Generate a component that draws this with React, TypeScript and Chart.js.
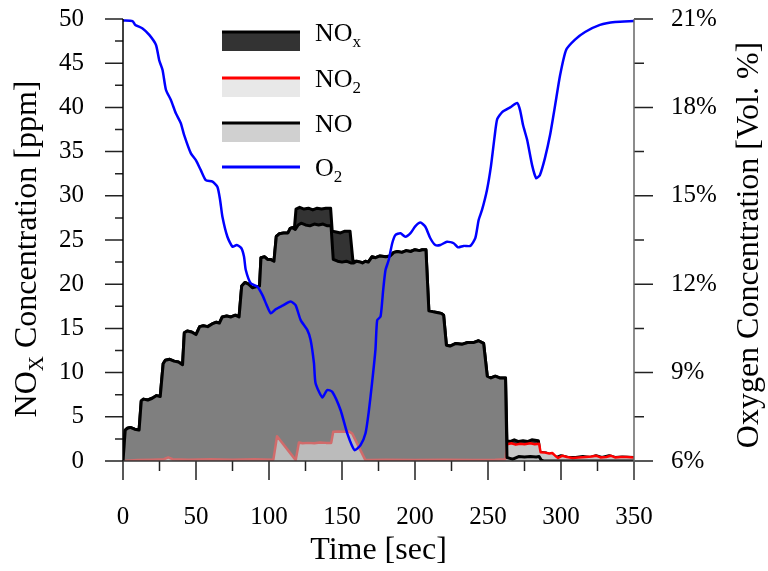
import React, { useEffect, useRef } from 'react';
import { Chart, registerables } from 'chart.js';

Chart.register(...registerables);

// ---- data (time in sec, concentrations in ppm, O2 in vol. %) ----
const NO_T = [0, 1.5, 3, 5, 8, 11, 12.5, 14, 17, 20, 23, 25.5, 27.5, 29, 32, 35, 38, 40.8, 42, 44, 47, 50, 52.5, 55, 58, 61, 64, 66, 68, 71, 74, 77, 79.5, 81.3, 83.5, 86, 88.6, 91, 93.5, 94.5, 97, 99, 101, 103.4, 105, 107, 110, 113, 114.5, 116, 118, 120, 122, 125, 128, 131, 134, 137, 140, 142.5, 144, 147, 150, 153, 156, 158, 160, 162.7, 164, 166, 168, 170.5, 173, 176, 180, 183, 185.5, 188, 191, 194, 197, 200, 203, 205, 207.5, 209.5, 212, 215, 218, 219.6, 221.5, 224, 228, 232, 236, 240, 243.5, 247, 249.5, 252, 255, 258, 262, 263, 265, 267, 269, 271, 275, 279, 283, 285, 286.5, 288, 350];
const NO_V = [0, 3.5, 3.7, 3.8, 3.6, 3.5, 6.8, 7.0, 6.9, 7.1, 7.4, 7.3, 11.0, 11.4, 11.5, 11.3, 11.2, 10.9, 14.5, 14.7, 14.6, 14.3, 15.2, 15.3, 15.2, 15.5, 15.7, 15.6, 16.3, 16.4, 16.3, 16.5, 16.3, 19.8, 20.2, 20.0, 19.6, 19.7, 19.8, 23.0, 23.1, 22.8, 22.8, 22.6, 25.4, 25.7, 25.8, 25.8, 26.3, 26.4, 26.2, 26.7, 26.9, 26.7, 26.6, 26.8, 26.7, 26.8, 26.6, 26.6, 22.8, 22.6, 22.5, 22.6, 22.4, 22.4, 22.6, 22.5, 22.4, 22.6, 22.5, 23.1, 23.0, 23.2, 23.1, 23.2, 23.6, 23.7, 23.6, 23.8, 23.7, 23.9, 23.8, 23.9, 23.9, 17.0, 16.9, 16.8, 16.7, 16.5, 13.1, 13.0, 13.3, 13.2, 13.4, 13.4, 13.6, 13.3, 9.6, 9.4, 9.6, 9.4, 9.4, 0.4, 0.3, 0.2, 0.35, 0.5, 0.45, 0.5, 0.45, 0.5, 0.1, 0, 0];

const NOX_T = [0, 1.5, 3, 5, 8, 11, 12.5, 14, 17, 20, 23, 25.5, 27.5, 29, 32, 35, 38, 40.8, 42, 44, 47, 50, 52.5, 55, 58, 61, 64, 66, 68, 71, 74, 77, 79.5, 81.3, 83.5, 86, 88.6, 91, 93.5, 94.5, 97, 99, 101, 103.4, 105, 107, 110, 113, 114.5, 116, 117.5, 118.5, 121, 124, 127, 130, 133, 136, 139, 142.2, 143.3, 146, 149, 152, 155.5, 157.5, 160, 162.7, 164, 166, 168, 170.5, 173, 176, 180, 183, 185.5, 188, 191, 194, 197, 200, 203, 205, 207.5, 209.5, 212, 215, 218, 219.6, 221.5, 224, 228, 232, 236, 240, 243.5, 247, 249.5, 252, 255, 258, 262, 263, 265, 268, 271, 274, 277, 280, 284.5, 285.5, 290, 293, 297, 300, 305, 310, 315, 320, 324, 328, 333, 337, 342, 350];
const NOX_V = [0, 3.5, 3.7, 3.8, 3.6, 3.5, 6.8, 7.0, 6.9, 7.1, 7.4, 7.3, 11.0, 11.4, 11.5, 11.3, 11.2, 10.9, 14.5, 14.7, 14.6, 14.3, 15.2, 15.3, 15.2, 15.5, 15.7, 15.6, 16.3, 16.4, 16.3, 16.5, 16.3, 19.8, 20.2, 20.0, 19.6, 19.7, 19.8, 23.0, 23.1, 22.8, 22.8, 22.6, 25.4, 25.7, 25.8, 25.8, 26.3, 26.4, 26.5, 28.5, 28.7, 28.5, 28.6, 28.4, 28.6, 28.5, 28.6, 28.6, 26.0, 25.9, 25.8, 26.0, 26.0, 22.6, 22.6, 22.5, 22.4, 22.6, 22.5, 23.1, 23.0, 23.2, 23.1, 23.2, 23.6, 23.7, 23.6, 23.8, 23.7, 23.9, 23.8, 23.9, 23.9, 17.0, 16.9, 16.8, 16.7, 16.5, 13.1, 13.0, 13.3, 13.2, 13.4, 13.4, 13.6, 13.3, 9.6, 9.4, 9.6, 9.4, 9.4, 2.3, 2.2, 2.4, 2.2, 2.3, 2.2, 2.4, 2.3, 1.0, 0.9, 0.7, 0.4, 0.6, 0.4, 0.4, 0.5, 0.4, 0.6, 0.4, 0.6, 0.4, 0.45, 0.4];

const NO2_T = [0, 10, 20, 28, 31, 34, 45, 60, 75, 90, 103, 105.5, 118.3, 120.5, 123, 127, 131, 135, 139, 142.6, 144, 147, 151, 154.7, 157, 166, 170, 180, 200, 220, 240, 255, 262, 263, 266, 269, 272, 275, 279, 282, 285, 286, 289, 292, 294, 296, 298, 301, 304, 308, 312, 317, 321, 324, 327, 331, 334, 337, 341, 345, 350];
const NO2_V = [0, 0.1, 0.15, 0.2, 0.4, 0.2, 0.15, 0.2, 0.15, 0.2, 0.15, 2.8, 0.1, 2.1, 2.0, 2.05, 2.0, 2.1, 2.05, 2.05, 3.3, 3.35, 3.3, 3.35, 3.1, 0.1, 0.1, 0.15, 0.1, 0.15, 0.1, 0.15, 0.2, 1.9, 2.0, 1.85, 1.95, 1.9, 2.0, 1.9, 1.95, 1.0, 0.95, 0.85, 0.9, 0.6, 0.35, 0.6, 0.45, 0.35, 0.4, 0.45, 0.5, 0.6, 0.4, 0.45, 0.6, 0.4, 0.45, 0.45, 0.4];

const O2_T = [0, 6.5, 8.4, 13.4, 18, 22.6, 24.8, 27.1, 29.4, 32.8, 36.2, 39.6, 41.9, 46.5, 49.9, 53.3, 56.7, 61.3, 64.7, 66.5, 68.1, 71.5, 75, 77.9, 81.1, 82.9, 84.1, 87.5, 92.1, 95.5, 98.4, 101.2, 104.6, 109.2, 114.8, 118.2, 121.7, 126.2, 128.5, 130.8, 131.9, 136.5, 139.9, 143.3, 149, 153.6, 158.6, 162.7, 166.1, 168.4, 170.7, 172.9, 174.1, 176.4, 178.2, 179.8, 182, 184.4, 186.6, 190, 193.4, 196.9, 200.3, 203.7, 207.1, 210.5, 213.9, 217.4, 221.9, 226.5, 229.4, 233.3, 237.9, 241.3, 243.6, 245.9, 249.3, 252, 254.5, 256.3, 259.7, 265.2, 270, 272, 274, 276.8, 280.2, 283, 285.5, 289, 292.5, 296, 299.4, 303.5, 309.6, 316.5, 326.7, 337, 350];
const O2_V = [20.95, 20.93, 20.8, 20.68, 20.46, 20.12, 19.6, 19.27, 18.6, 18.25, 17.8, 17.46, 17.06, 16.44, 16.21, 15.87, 15.53, 15.48, 15.3, 14.86, 14.29, 13.61, 13.27, 13.33, 13.22, 12.93, 12.48, 12.03, 11.91, 11.63, 11.29, 11.01, 11.15, 11.27, 11.41, 11.29, 10.78, 10.45, 10.11, 9.32, 8.64, 8.16, 8.41, 8.35, 7.73, 6.94, 6.37, 6.54, 6.94, 7.7, 8.7, 9.77, 10.78, 10.9, 11.8, 12.48, 12.82, 13.39, 13.67, 13.73, 13.61, 13.73, 13.97, 14.09, 13.95, 13.56, 13.33, 13.33, 13.44, 13.39, 13.25, 13.3, 13.3, 13.56, 14.18, 14.52, 15.2, 16.0, 17.0, 17.6, 17.84, 18.0, 18.15, 17.9, 17.4, 16.9, 16.04, 15.6, 15.7, 16.28, 17.06, 18.08, 19.1, 19.95, 20.3, 20.56, 20.8, 20.9, 20.93];

// ---- tick labels ----
const X_TICKS = [0, 50, 100, 150, 200, 250, 300, 350];
const Y_TICKS = [0, 5, 10, 15, 20, 25, 30, 35, 40, 45, 50];
const Y2_TICKS = [6, 9, 12, 15, 18, 21];

const X_TITLE = 'Time [sec]';
const Y_TITLE = ['NO', 'X', ' Concentration [ppm]'];
const Y2_TITLE = 'Oxygen Concentration [Vol. %]';
const LEGEND = [
  { main: 'NO', sub: 'x', fill: '#333333', line: '#000000' },
  { main: 'NO', sub: '2', fill: '#e8e8e8', line: '#ff0000' },
  { main: 'NO', sub: '', fill: '#d0d0d0', line: '#000000' },
  { main: 'O', sub: '2', fill: null, line: '#0000ff' },
];

const FONT = '"Liberation Serif", "Times New Roman", serif';

const toXY = (t: number[], v: number[]) => t.map((x, i) => ({ x, y: v[i] }));

const decorPlugin = {
  id: 'decor',
  afterDraw(chart: any) {
    const { ctx, chartArea: ca, scales } = chart;
    const xs = scales.x;
    const ys = scales.y;
    const y2 = scales.y2;
    ctx.save();
    // tick marks
    ctx.strokeStyle = '#222';
    ctx.lineWidth = 1.5;
    ctx.beginPath();
    for (let t = 0; t <= 350; t += 25) {
      const px = xs.getPixelForValue(t);
      const len = t % 50 === 0 ? 19 : 10;
      ctx.moveTo(px, ca.bottom);
      ctx.lineTo(px, ca.bottom + len);
    }
    for (let v = 0; v <= 50; v += 2.5) {
      const py = ys.getPixelForValue(v);
      const len = v % 5 === 0 ? 18 : 8;
      ctx.moveTo(ca.left, py);
      ctx.lineTo(ca.left - len, py);
    }
    for (let o = 6; o <= 21; o += 1.5) {
      const py = y2.getPixelForValue(o);
      const len = (o - 6) % 3 === 0 ? 19 : 10;
      ctx.moveTo(ca.right, py);
      ctx.lineTo(ca.right + len, py);
    }
    ctx.stroke();
    // axis lines
    ctx.lineWidth = 1.5;
    ctx.strokeStyle = '#000';
    ctx.beginPath();
    ctx.moveTo(ca.left, ca.top);
    ctx.lineTo(ca.left, ca.bottom);
    ctx.stroke();
    ctx.strokeStyle = '#333';
    ctx.beginPath();
    ctx.moveTo(ca.left, ca.bottom);
    ctx.lineTo(ca.right, ca.bottom);
    ctx.stroke();
    ctx.strokeStyle = '#666';
    ctx.beginPath();
    ctx.moveTo(ca.right, ca.top);
    ctx.lineTo(ca.right, ca.bottom + 19);
    ctx.stroke();

    // tick labels
    ctx.fillStyle = '#000';
    ctx.font = `25px ${FONT}`;
    ctx.textBaseline = 'middle';
    ctx.textAlign = 'center';
    X_TICKS.forEach((t) => ctx.fillText(String(t), xs.getPixelForValue(t), 517));
    ctx.textAlign = 'right';
    Y_TICKS.forEach((v) => ctx.fillText(String(v), 84, ys.getPixelForValue(v)));
    ctx.textAlign = 'left';
    Y2_TICKS.forEach((o) => ctx.fillText(o + '%', 671, y2.getPixelForValue(o)));

    // titles
    ctx.font = `32px ${FONT}`;
    ctx.textAlign = 'center';
    ctx.textBaseline = 'middle';
    ctx.fillText(X_TITLE, (ca.left + ca.right) / 2, 551);

    // left title with subscript
    ctx.textAlign = 'left';
    ctx.textBaseline = 'alphabetic';
    const bigF = `32px ${FONT}`;
    const subF = `21px ${FONT}`;
    ctx.font = bigF;
    const w0 = ctx.measureText(Y_TITLE[0]).width;
    const w2 = ctx.measureText(Y_TITLE[2]).width;
    ctx.font = subF;
    const w1 = ctx.measureText(Y_TITLE[1]).width;
    const total = w0 + w1 + w2;
    ctx.save();
    ctx.translate(36, 249);
    ctx.rotate(-Math.PI / 2);
    let cx = -total / 2;
    ctx.font = bigF;
    ctx.fillText(Y_TITLE[0], cx, 0);
    cx += w0;
    ctx.font = subF;
    ctx.fillText(Y_TITLE[1], cx, 7);
    cx += w1;
    ctx.font = bigF;
    ctx.fillText(Y_TITLE[2], cx, 0);
    ctx.restore();

    // right title (reads bottom to top)
    ctx.save();
    ctx.translate(758, 245);
    ctx.rotate(-Math.PI / 2);
    ctx.font = bigF;
    ctx.textAlign = 'center';
    ctx.fillText(Y2_TITLE, 0, 0);
    ctx.restore();

    // legend
    const rowY = [32, 78, 123, 167];
    LEGEND.forEach((it, i) => {
      const y = rowY[i];
      if (it.fill) {
        ctx.fillStyle = it.fill;
        ctx.fillRect(222, y, 78, 19);
      }
      ctx.strokeStyle = it.line;
      ctx.lineWidth = 3;
      ctx.beginPath();
      ctx.moveTo(222, y);
      ctx.lineTo(300, y);
      ctx.stroke();
      ctx.fillStyle = '#000';
      ctx.textAlign = 'left';
      ctx.textBaseline = 'alphabetic';
      ctx.font = `26px ${FONT}`;
      const base = y + 9;
      ctx.fillText(it.main, 315, base);
      const mw = ctx.measureText(it.main).width;
      if (it.sub) {
        ctx.font = `17px ${FONT}`;
        ctx.fillText(it.sub, 315 + mw, base + 6);
      }
    });
    ctx.restore();
  },
};

export default function App() {
  const ref = useRef<HTMLCanvasElement>(null);
  useEffect(() => {
    if (!ref.current) return;
    const hidden = { display: false, padding: 0 };
    const chart = new Chart(ref.current, {
      type: 'line',
      data: {
        datasets: [
          {
            label: 'O2',
            data: toXY(O2_T, O2_V),
            yAxisID: 'y2',
            borderColor: '#0000ff',
            borderWidth: 2.5,
            fill: false,
            pointRadius: 0,
            tension: 0.2,
          },
          {
            label: 'NO',
            data: toXY(NO_T, NO_V),
            yAxisID: 'y',
            borderColor: '#000000',
            backgroundColor: 'rgba(178,178,178,0.6)',
            borderWidth: 3,
            fill: 'origin',
            pointRadius: 0,
            tension: 0,
          },
          {
            label: 'NO2',
            data: toXY(NO2_T, NO2_V),
            yAxisID: 'y',
            borderColor: '#ff0000',
            backgroundColor: '#c8c8c8',
            borderWidth: 2.5,
            fill: 'origin',
            pointRadius: 0,
            tension: 0,
          },
          {
            label: 'NOx',
            data: toXY(NOX_T, NOX_V),
            yAxisID: 'y',
            borderColor: '#000000',
            backgroundColor: '#333333',
            borderWidth: 3,
            fill: 'origin',
            pointRadius: 0,
            tension: 0,
          },
        ],
      },
      options: {
        animation: false,
        responsive: false,
        events: [],
        elements: { line: { borderJoinStyle: 'round', borderCapStyle: 'round' } },
        layout: { padding: { top: 19, left: 0, right: 0, bottom: 0 }, autoPadding: false },
        plugins: { legend: { display: false }, tooltip: { enabled: false } },
        scales: {
          x: {
            type: 'linear',
            min: 0,
            max: 350,
            ticks: { ...hidden, stepSize: 50 },
            grid: { display: false, drawTicks: false },
            border: { display: false },
            afterFit: (s: any) => { s.height = 110; },
          },
          y: {
            position: 'left',
            min: 0,
            max: 50,
            ticks: { ...hidden, stepSize: 5 },
            grid: { display: false, drawTicks: false },
            border: { display: false },
            afterFit: (s: any) => { s.width = 123; },
          },
          y2: {
            position: 'right',
            min: 6,
            max: 21,
            ticks: { ...hidden, stepSize: 3 },
            grid: { display: false, drawTicks: false },
            border: { display: false },
            afterFit: (s: any) => { s.width = 134; },
          },
        },
      } as any,
      plugins: [decorPlugin],
    });
    return () => chart.destroy();
  }, []);
  return (
    <div style={{ position: 'fixed', left: 0, top: 0, width: 768, height: 571, background: '#fff' }}>
      <canvas ref={ref} width={768} height={571} style={{ display: 'block' }} />
    </div>
  );
}
